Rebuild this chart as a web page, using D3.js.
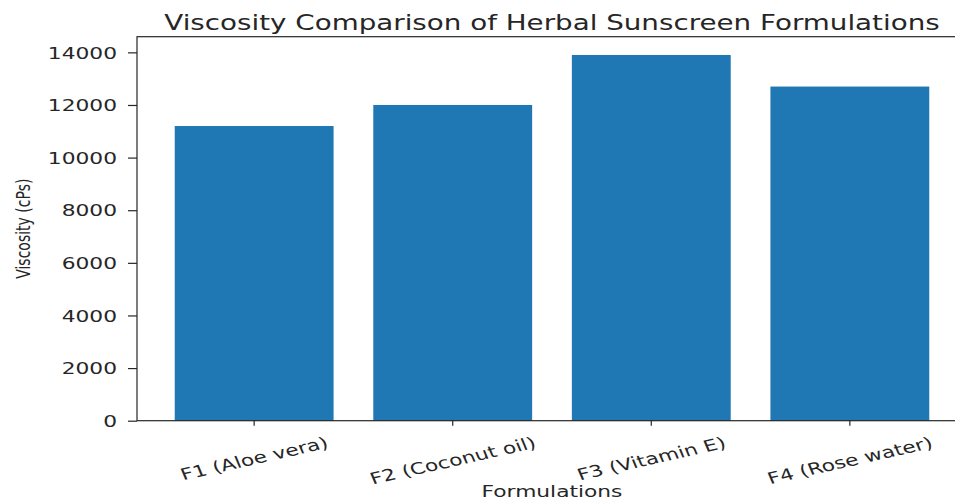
<!DOCTYPE html>
<meta charset="utf-8">
<title>viscosity</title>
<script src="https://cdn.jsdelivr.net/npm/d3@7"></script>
<style>
body { margin: 0; background: #fff; }
svg { display: block; overflow: hidden; }
text { font-family: "DejaVu Sans", sans-serif; fill: #262626; }
.tick line { stroke: #262626; }
</style>
<body>
<script>

// data
var formulations = ["F1 (Aloe vera)", "F2 (Coconut oil)", "F3 (Vitamin E)", "F4 (Rose water)"];
var viscosity = [11200, 12000, 13900, 12700];
var yTicks = [0, 2000, 4000, 6000, 8000, 10000, 12000, 14000];

var width = 955, height = 502;
var plot = {left: 137, right: 967, top: 36.7, bottom: 420.7};
var sx = 1.36; // the picture is stretched sideways
var angle = 17;

var svg = d3.select("body").append("svg")
    .attr("width", width)
    .attr("height", height);

var x = d3.scaleBand()
    .domain(formulations)
    .range([plot.left, plot.right])
    .paddingInner(0.2)
    .paddingOuter(0.19);

var y = d3.scaleLinear()
    .domain([0, d3.max(viscosity) * 1.05])
    .range([plot.bottom, plot.top]);

// bars
svg.append("g")
  .selectAll("rect")
  .data(formulations)
  .enter().append("rect")
    .attr("x", function(d) { return x(d); })
    .attr("width", x.bandwidth())
    .attr("y", function(d, i) { return y(viscosity[i]); })
    .attr("height", function(d, i) { return plot.bottom - y(viscosity[i]); })
    .attr("fill", "#1f77b4");

// spines
svg.append("rect")
    .attr("x", plot.left)
    .attr("y", plot.top)
    .attr("width", plot.right - plot.left)
    .attr("height", plot.bottom - plot.top)
    .attr("fill", "none")
    .attr("stroke", "#262626")
    .attr("stroke-width", 1.2);

// y axis
var gy = svg.append("g")
    .attr("transform", "translate(" + plot.left + ",0)")
    .call(d3.axisLeft(y).tickValues(yTicks).tickSize(9).tickFormat(d3.format("d")));
gy.select(".domain").remove();
gy.selectAll(".tick line").attr("stroke-width", 1.2);
gy.selectAll(".tick text")
    .attr("x", 0)
    .attr("dy", "0.36em")
    .attr("font-size", "16px")
    .attr("fill", "#262626")
    .attr("transform", "translate(-20,0) scale(" + sx + ",1)");

// x axis, labels rotated with their box top kept at one height
var gx = svg.append("g")
    .attr("transform", "translate(0," + plot.bottom + ")")
    .call(d3.axisBottom(x).tickSize(5));
gx.select(".domain").remove();
gx.selectAll(".tick line").attr("stroke-width", 1.2);
var rad = angle * Math.PI / 180;
gx.selectAll(".tick text")
    .attr("y", 0)
    .attr("dy", "0.36em")
    .attr("font-size", "16px")
    .attr("fill", "#262626")
    .attr("text-anchor", "middle")
    .attr("transform", function() {
      var w = this.getComputedTextLength();
      var h = 18.6;
      var boxH = w * Math.sin(rad) + h * Math.cos(rad);
      return "translate(0," + (12.3 + boxH / 2) + ") scale(" + sx + ",1) rotate(" + (-angle) + ")";
    });

// title
svg.append("text")
    .attr("transform", "translate(" + ((plot.left + plot.right) / 2) + ",30) scale(" + sx + ",1)")
    .attr("text-anchor", "middle")
    .attr("font-size", "20.4px")
    .text("Viscosity Comparison of Herbal Sunscreen Formulations");

// axis labels
svg.append("text")
    .attr("transform", "translate(" + ((plot.left + plot.right) / 2) + ",497) scale(" + sx + ",1)")
    .attr("text-anchor", "middle")
    .attr("font-size", "16px")
    .text("Formulations");

svg.append("text")
    .attr("transform", "translate(29.5," + ((plot.top + plot.bottom) / 2) + ") scale(" + sx + ",1) rotate(-90)")
    .attr("text-anchor", "middle")
    .attr("font-size", "14px")
    .text("Viscosity (cPs)");

</script>
</body>
</html>
